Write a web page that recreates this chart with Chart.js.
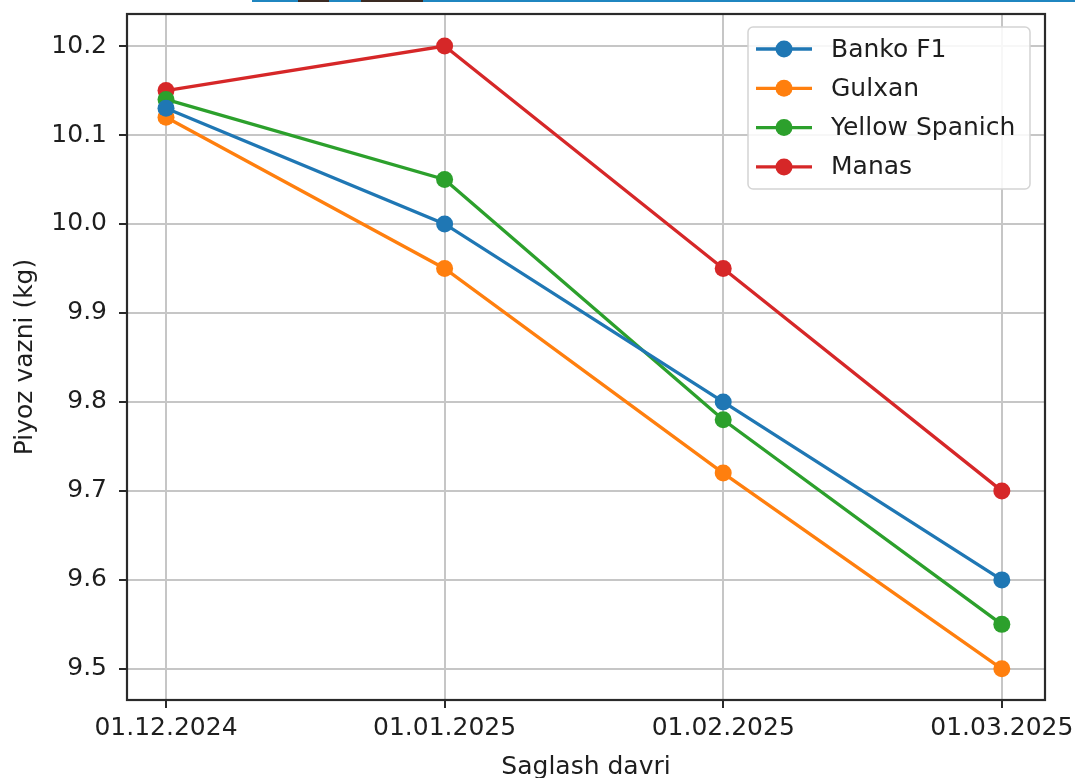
<!DOCTYPE html>
<html><head><meta charset="utf-8">
<script src="https://cdn.jsdelivr.net/npm/chart.js@4/dist/chart.umd.min.js"></script>
<style>
html,body{margin:0;padding:0;background:#fff;overflow:hidden}
#wrap{position:relative;width:1075px;height:778px}
canvas{display:block}
.strip{position:absolute;top:0;height:2px}
</style></head>
<body><div id="wrap">
<canvas id="c" width="1075" height="778"></canvas>
<div class="strip" style="left:252px;width:823px;background:#1f86c0"></div>
<div class="strip" style="left:298px;width:31px;background:#3a2a22"></div>
<div class="strip" style="left:361px;width:62px;background:#3a2a22"></div>
</div>
<script>
const categories = ['01.12.2024','01.01.2025','01.02.2025','01.03.2025'];
const seriesNames = ['Banko F1','Gulxan','Yellow Spanich','Manas'];
const bankoF1 = [10.13, 10.00, 9.80, 9.60];
const gulxan = [10.12, 9.95, 9.72, 9.50];
const yellowSpanich = [10.14, 10.05, 9.78, 9.55];
const manas = [10.15, 10.20, 9.95, 9.70];
const yTicks = [9.5, 9.6, 9.7, 9.8, 9.9, 10.0, 10.1, 10.2];
const colors = ['#1f77b4','#ff7f0e','#2ca02c','#d62728'];
const allSeries = [bankoF1, gulxan, yellowSpanich, manas];

const FONT = "'DejaVu Sans', sans-serif";
const FS = 25;
const TXT = '#1e1e1e';

const datasets = allSeries.map((vals, k) => ({
  label: seriesNames[k],
  data: vals.map((v, i) => ({x: i, y: v})),
  borderColor: colors[k],
  backgroundColor: colors[k],
  pointBackgroundColor: colors[k],
  pointBorderWidth: 0,
  pointRadius: 8.5,
  borderWidth: 3.3,
  tension: 0,
  fill: false
}));

const framePlugin = {
  id: 'frame',
  afterDraw(chart) {
    const {ctx, chartArea: a} = chart;
    ctx.save();
    ctx.strokeStyle = '#2a2a2a';
    ctx.lineWidth = 2.2;
    ctx.strokeRect(a.left, a.top, a.right - a.left, a.bottom - a.top);
    // legend
    const bx = 748, by = 27, bw = 282, bh = 162, r = 5;
    ctx.beginPath();
    ctx.moveTo(bx + r, by);
    ctx.arcTo(bx + bw, by, bx + bw, by + bh, r);
    ctx.arcTo(bx + bw, by + bh, bx, by + bh, r);
    ctx.arcTo(bx, by + bh, bx, by, r);
    ctx.arcTo(bx, by, bx + bw, by, r);
    ctx.closePath();
    ctx.fillStyle = 'rgba(255,255,255,0.85)';
    ctx.fill();
    ctx.strokeStyle = '#d4d4d4';
    ctx.lineWidth = 1.5;
    ctx.stroke();
    chart.data.datasets.forEach((ds, i) => {
      const y = 49 + 39.3 * i;
      ctx.strokeStyle = ds.borderColor;
      ctx.lineWidth = 3.3;
      ctx.beginPath();
      ctx.moveTo(756, y);
      ctx.lineTo(812, y);
      ctx.stroke();
      ctx.fillStyle = ds.borderColor;
      ctx.beginPath();
      ctx.arc(784, y, 8.5, 0, Math.PI * 2);
      ctx.fill();
      ctx.fillStyle = TXT;
      ctx.font = FS + 'px ' + FONT;
      ctx.textBaseline = 'middle';
      ctx.textAlign = 'left';
      ctx.fillText(ds.label, 831, y + 1);
    });
    ctx.restore();
  }
};

const bgPlugin = {
  id: 'bg',
  beforeDraw(chart) {
    const ctx = chart.ctx;
    ctx.save();
    ctx.fillStyle = '#fff';
    ctx.fillRect(0, 0, chart.width, chart.height);
    ctx.restore();
  }
};

const gridOpts = {color: '#c6c6c6', lineWidth: 2, tickLength: 8, tickColor: '#2a2a2a', tickWidth: 2};

new Chart(document.getElementById('c'), {
  type: 'line',
  data: {datasets},
  options: {
    responsive: false,
    devicePixelRatio: 1,
    animation: false,
    layout: {padding: {top: 14, right: 30, left: 0, bottom: 0}},
    plugins: {legend: {display: false}, tooltip: {enabled: false}},
    scales: {
      x: {
        type: 'linear',
        min: -0.14,
        max: 3.155,
        afterBuildTicks: s => { s.ticks = categories.map((c, i) => ({value: i})); },
        afterFit: s => { s.height = 78; s.paddingLeft = 0; s.paddingRight = 0; },
        ticks: {
          callback: v => categories[v],
          font: {family: FONT, size: FS},
          color: TXT,
          padding: 5,
          maxRotation: 0,
          autoSkip: false
        },
        grid: gridOpts,
        border: {display: false},
        title: {display: true, text: 'Saglash davri', font: {family: FONT, size: FS}, color: TXT, padding: {top: 0, bottom: -4}}
      },
      y: {
        type: 'linear',
        min: 9.465,
        max: 10.236,
        afterBuildTicks: s => { s.ticks = yTicks.map(v => ({value: v})); },
        afterFit: s => { s.width = 127; s.paddingTop = 0; s.paddingBottom = 0; },
        ticks: {
          callback: v => Number(v).toFixed(1),
          font: {family: FONT, size: FS},
          color: TXT,
          padding: 12
        },
        grid: gridOpts,
        border: {display: false},
        title: {display: true, text: 'Piyoz vazni (kg)', font: {family: FONT, size: FS}, color: TXT, padding: {top: 10, bottom: 0}}
      }
    }
  },
  plugins: [bgPlugin, framePlugin]
});
</script>
</body></html>
